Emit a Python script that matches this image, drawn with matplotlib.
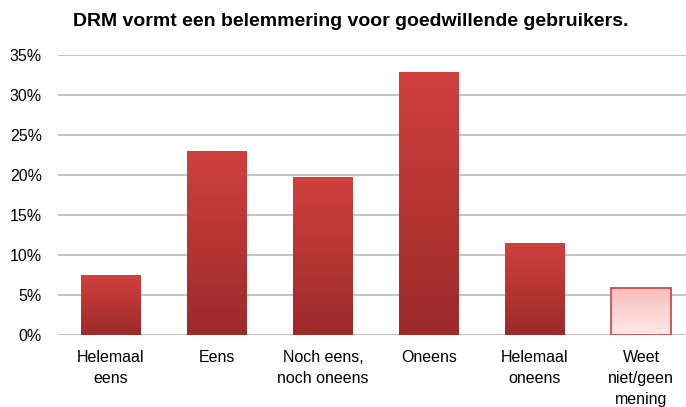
import numpy as np
import matplotlib.pyplot as plt
from matplotlib.colors import LinearSegmentedColormap

plt.rcParams["font.family"] = ["Liberation Sans", "DejaVu Sans"]

# data
categories = ["Helemaal\neens", "Eens", "Noch eens,\nnoch oneens", "Oneens",
              "Helemaal\noneens", "Weet\nniet/geen\nmening"]
values = [7.4, 22.9, 19.7, 32.8, 11.4, 5.9]
yticks = [0, 5, 10, 15, 20, 25, 30, 35]

fig = plt.figure(figsize=(6.86, 4.07), dpi=100)
# plot area runs slightly past the right edge, as in the original
ax = fig.add_axes([58 / 686, 72 / 407, 636 / 686, 280 / 407])

x = np.arange(len(values))
bars = ax.bar(x, values, width=0.56, color="none", zorder=3)

red_cmap = LinearSegmentedColormap.from_list("red", ["#9c2a2a", "#d0403e"])
pink_cmap = LinearSegmentedColormap.from_list("pink", ["#ffe9e9", "#f9bcbc"])
grad = np.linspace(0, 1, 256).reshape(-1, 1)

for i, b in enumerate(bars):
    x0, w, h = b.get_x(), b.get_width(), b.get_height()
    cmap = pink_cmap if i == len(bars) - 1 else red_cmap
    ax.imshow(grad, cmap=cmap, origin="lower", aspect="auto",
              extent=[x0, x0 + w, 0, h], zorder=3)
    if i == len(bars) - 1:
        b.set_edgecolor("#c9504e")
        b.set_linewidth(1.3)
        b.set_zorder(4)

ax.set_xlim(-0.5, len(values) - 0.5)
ax.set_ylim(0, 35)
ax.set_yticks(yticks)
ax.set_yticklabels([f"{t}%" for t in yticks], fontsize=11.5)
ax.set_xticks(x)
ax.set_xticklabels(categories, fontsize=11.5, linespacing=1.5)
ax.tick_params(length=0, pad=11.5, axis="y")
ax.tick_params(length=0, pad=11, axis="x")
ax.grid(axis="y", color="#c4c4c4", linewidth=1.4, zorder=0)
ax.set_axisbelow(True)
for s in ax.spines.values():
    s.set_visible(False)

fig.text(0.512, 0.948, "DRM vormt een belemmering voor goedwillende gebruikers.",
         ha="center", va="center", fontsize=14, fontweight="bold")

fig.savefig("out.png", dpi=100)
